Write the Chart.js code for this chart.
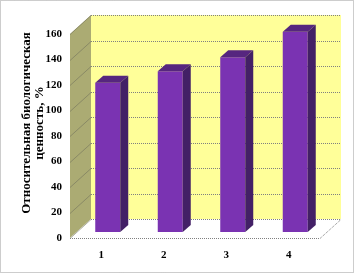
<!DOCTYPE html>
<html><head><meta charset="utf-8">
<script src="https://cdn.jsdelivr.net/npm/chart.js@4/dist/chart.umd.min.js"></script>
<style>html,body{margin:0;padding:0;background:#fff;overflow:hidden}#wrap{width:355px;height:274px;position:relative}</style>
</head><body><div id="wrap"><canvas id="c" width="355" height="274"></canvas></div>
<script>
const categories = ['1', '2', '3', '4'];
const values = [117, 126, 137, 157];
const yMin = 0, yMax = 160, yStep = 20;
const titleLines = ['\u00A0\u00A0\u00A0\u00A0\u00A0\u00A0\u00A0\u00A0Относительная биологическая',
                    '\u00A0\u00A0\u00A0\u00A0\u00A0\u00A0\u00A0\u00A0ценность, %'];

const WALL = {dx: 21, dy: -19};
const BAR_OFF = {dx: 6.5, dy: -6};
const BAR_DEPTH = {dx: 8, dy: -7};

function poly(ctx, pts, fill) {
  ctx.beginPath();
  ctx.moveTo(pts[0][0], pts[0][1]);
  for (let i = 1; i < pts.length; i++) ctx.lineTo(pts[i][0], pts[i][1]);
  ctx.closePath();
  ctx.fillStyle = fill;
  ctx.fill();
}

const threeD = {
  id: 'threeD',
  beforeDraw(chart) {
    const {ctx, chartArea: a, scales: {y}} = chart;
    const L = a.left, R = a.right, T = a.top, B = a.bottom, dx = WALL.dx, dy = WALL.dy;
    ctx.save();
    ctx.fillStyle = '#fff';
    ctx.fillRect(0, 0, chart.width, chart.height);
    // back wall
    ctx.fillStyle = '#ffff99';
    ctx.fillRect(L + dx, T + dy, R - L, B - T);
    // left wall
    poly(ctx, [[L, T], [L + dx, T + dy], [L + dx, B + dy], [L, B]], '#abab73');
    // floor
    poly(ctx, [[L, B], [L + dx, B + dy], [R + dx, B + dy], [R, B]], '#ffffff');
    // gridlines
    ctx.lineWidth = 1;
    y.ticks.forEach(t => {
      const py = Math.round(y.getPixelForValue(t.value)) + 0.5;
      ctx.setLineDash([]);
      ctx.strokeStyle = 'rgba(110,110,90,0.55)';
      ctx.beginPath();
      ctx.moveTo(L, py);
      ctx.lineTo(L + dx, py + dy);
      ctx.stroke();
      ctx.setLineDash([1, 1]);
      ctx.strokeStyle = '#808080';
      ctx.beginPath();
      ctx.moveTo(L + dx, py + dy);
      ctx.lineTo(R + dx, py + dy);
      ctx.stroke();
    });
    // floor edges
    ctx.setLineDash([1, 1]);
    ctx.strokeStyle = '#808080';
    ctx.beginPath();
    ctx.moveTo(L, B + 0.5);
    ctx.lineTo(R, B + 0.5);
    ctx.lineTo(R + dx, B + dy + 0.5);
    ctx.stroke();
    ctx.restore();
  },
  beforeDatasetsDraw(chart) {
    chart.ctx.save();
    chart.ctx.translate(BAR_OFF.dx, BAR_OFF.dy);
  },
  afterDatasetsDraw(chart) {
    const ctx = chart.ctx;
    ctx.restore();
    const meta = chart.getDatasetMeta(0);
    ctx.save();
    meta.data.forEach(el => {
      const p = el.getProps(['x', 'y', 'base', 'width'], true);
      const x0 = p.x - p.width / 2 + BAR_OFF.dx, x1 = p.x + p.width / 2 + BAR_OFF.dx;
      const yt = p.y + BAR_OFF.dy, yb = p.base + BAR_OFF.dy;
      const bx = BAR_DEPTH.dx, by = BAR_DEPTH.dy;
      poly(ctx, [[x0, yt], [x1, yt], [x1 + bx, yt + by], [x0 + bx, yt + by]], '#56267f');
      poly(ctx, [[x1, yt], [x1 + bx, yt + by], [x1 + bx, yb + by], [x1, yb]], '#432066');
    });
    ctx.restore();
  },
  afterDraw(chart) {
    const ctx = chart.ctx;
    ctx.save();
    ctx.setLineDash([1, 1]);
    ctx.strokeStyle = '#9a9a9a';
    ctx.lineWidth = 1;
    ctx.strokeRect(0.5, 0.5, 353, 272);
    ctx.restore();
  }
};

const tickFont = {family: 'Liberation Serif', weight: 'bold', size: 11, lineHeight: 1.2};

new Chart(document.getElementById('c'), {
  type: 'bar',
  data: {
    labels: categories,
    datasets: [{
      data: values,
      backgroundColor: '#7a33b2',
      borderWidth: 0,
      barPercentage: 0.4,
      categoryPercentage: 1.0
    }]
  },
  options: {
    responsive: false,
    animation: false,
    devicePixelRatio: 1,
    layout: {padding: {left: 0, right: 35, top: 34, bottom: 0}},
    plugins: {legend: {display: false}, tooltip: {enabled: false}},
    scales: {
      x: {
        grid: {display: false, drawTicks: false},
        border: {display: false},
        ticks: {color: '#000', font: tickFont, padding: 11, maxRotation: 0},
        afterFit: s => { s.height = 36; }
      },
      y: {
        min: yMin, max: yMax,
        grid: {display: false, drawTicks: false},
        border: {display: false},
        ticks: {stepSize: yStep, color: '#000', font: tickFont, padding: 8},
        title: {
          display: true,
          text: titleLines,
          color: '#000',
          font: {family: 'Liberation Serif', weight: 'bold', size: 13, lineHeight: 1.0},
          padding: {top: 20.5, bottom: 0}
        },
        afterFit: s => { s.width = 70; }
      }
    }
  },
  plugins: [threeD]
});
</script>
</body></html>
